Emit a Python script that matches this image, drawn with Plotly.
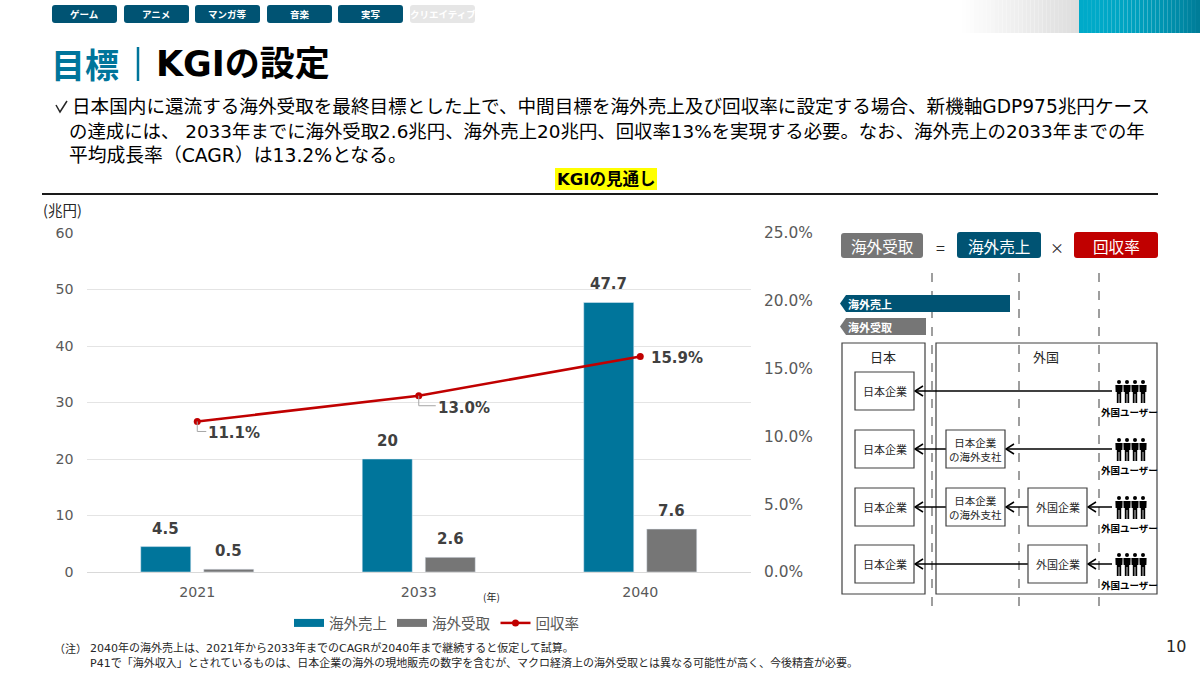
import plotly.graph_objects as go

years = ["2021", "2033", "2040"]
overseas_sales = [4.5, 20, 47.7]
overseas_receipts = [0.5, 2.6, 7.6]
recovery_rate = [11.1, 13.0, 15.9]

sales_labels = ["4.5", "20", "47.7"]
receipt_labels = ["0.5", "2.6", "7.6"]
rate_labels = ["11.1%", "13.0%", "15.9%"]
# label offset from the line point, px
rate_offsets = [(37, 12), (45, 12), (37, 2)]

left_ticks = [0, 10, 20, 30, 40, 50, 60]
right_ticks = [0, 5, 10, 15, 20, 25]
right_tick_labels = ["0.0%", "5.0%", "10.0%", "15.0%", "20.0%", "25.0%"]

tabs = ["ゲーム", "アニメ", "マンガ等", "音楽", "実写", "クリエイティブ"]
tab_x = [52, 124, 195, 267, 338, 410]

subtitle = [
    "日本国内に還流する海外受取を最終目標とした上で、中間目標を海外売上及び回収率に設定する場合、新機軸GDP975兆円ケース",
    "の達成には、 2033年までに海外受取2.6兆円、海外売上20兆円、回収率13%を実現する必要。なお、海外売上の2033年までの年",
    "平均成長率（CAGR）は13.2%となる。",
]

W, H = 1200, 674
FONT = "'DejaVu Sans', 'Noto Sans CJK JP'"
JP = "'Noto Sans CJK JP'"
BLUE = "#00759b"
NAVY = "#005373"
GREY = "#767676"
RED = "#c00000"
TEXT = "#595959"
BOX = "#404040"


def px(x):
    return x / W


def py(y):
    return 1 - y / H


fig = go.Figure()

fig.add_trace(go.Bar(x=years, y=overseas_sales, marker_color=BLUE, showlegend=False))
fig.add_trace(go.Bar(x=years, y=overseas_receipts, marker_color=GREY, showlegend=False))
fig.add_trace(go.Scatter(x=years, y=recovery_rate, yaxis="y2", mode="lines+markers",
                         line=dict(color=RED, width=2.5), marker=dict(color=RED, size=7),
                         name="回収率", legendrank=3))
# bar legend keys are wide in the original, so use thick lines for them
fig.add_trace(go.Scatter(x=years, y=[None, None, None], mode="lines", line=dict(color=BLUE, width=8),
                         name="海外売上", legendrank=1))
fig.add_trace(go.Scatter(x=years, y=[None, None, None], mode="lines", line=dict(color=GREY, width=8),
                         name="海外受取", legendrank=2))

shapes = []
notes = []


def text(x, y, s, size=12, color="#262626", bold=False, anchor="center", font=JP):
    if bold:
        s = "<b>" + s + "</b>"
    notes.append(dict(x=px(x), y=py(y), xref="paper", yref="paper", text=s, showarrow=False,
                      xanchor=anchor, yanchor="middle", align="center" if anchor == "center" else "left",
                      font=dict(size=size, color=color, family=font), borderpad=0))


def rect(x0, y0, x1, y1, fill=None, line=None, width=1.2):
    shapes.append(dict(type="rect", xref="paper", yref="paper", x0=px(x0), x1=px(x1),
                       y0=py(y0), y1=py(y1), fillcolor=fill,
                       line=dict(color=line, width=width if line else 0)))


def round_rect(x0, y0, x1, y1, fill, r=3):
    d = (f"M{px(x0 + r):.5f},{py(y0):.5f}L{px(x1 - r):.5f},{py(y0):.5f}"
         f"Q{px(x1):.5f},{py(y0):.5f} {px(x1):.5f},{py(y0 + r):.5f}"
         f"L{px(x1):.5f},{py(y1 - r):.5f}Q{px(x1):.5f},{py(y1):.5f} {px(x1 - r):.5f},{py(y1):.5f}"
         f"L{px(x0 + r):.5f},{py(y1):.5f}Q{px(x0):.5f},{py(y1):.5f} {px(x0):.5f},{py(y1 - r):.5f}"
         f"L{px(x0):.5f},{py(y0 + r):.5f}Q{px(x0):.5f},{py(y0):.5f} {px(x0 + r):.5f},{py(y0):.5f}Z")
    shapes.append(dict(type="path", xref="paper", yref="paper", path=d, fillcolor=fill, line_width=0))


def seg(x0, y0, x1, y1, color="#000000", width=1.5, dash="solid"):
    shapes.append(dict(type="line", xref="paper", yref="paper", x0=px(x0), x1=px(x1),
                       y0=py(y0), y1=py(y1), line=dict(color=color, width=width, dash=dash)))


def poly(points, fill=None, line=None, width=1.5, close=True):
    d = "M" + "L".join(f"{px(a):.5f},{py(b):.5f}" for a, b in points)
    if close:
        d += "Z"
    shapes.append(dict(type="path", xref="paper", yref="paper", path=d, fillcolor=fill,
                       line=dict(color=line, width=width if line else 0)))


def arrow(x0, x1, y):
    seg(x0, y, x1, y)
    poly([(x1 + 8, y - 5), (x1, y), (x1 + 8, y + 5)], line="#000000", close=False)


def people(y):
    for cx in [1119, 1127, 1135, 1143]:
        shapes.append(dict(type="circle", xref="paper", yref="paper", x0=px(cx - 2), x1=px(cx + 2),
                           y0=py(y - 11), y1=py(y - 7), fillcolor="#000000", line_width=0))
        poly([(cx - 3.6, y - 6), (cx + 3.6, y - 6), (cx + 3.4, y + 1), (cx + 2.2, y + 1), (cx + 2.2, y + 12),
              (cx + 0.4, y + 12), (cx + 0.4, y + 3), (cx - 0.4, y + 3), (cx - 0.4, y + 12),
              (cx - 2.2, y + 12), (cx - 2.2, y + 1), (cx - 3.4, y + 1)], fill="#000000")
    text(1129, y + 21, "外国ユーザー", size=9.5, color="#000000", bold=True)


# header band
for i in range(30):
    t = i / 30
    shade = round(255 - 35 * t)
    rect(958 + i * 121 / 30, 0, 958 + (i + 1) * 121 / 30, 33, fill=f"rgb({shade},{shade},{shade})")
    rect(1079 + i * 121 / 30, 0, 1079 + (i + 1) * 121 / 30, 33,
         fill=f"rgb(0,{round(170 - 48 * t * t)},{round(201 - 52 * t * t)})")

# navigation tabs
for i, (label, x) in enumerate(zip(tabs, tab_x)):
    on = i < 5
    round_rect(x, 5, x + 65, 23, NAVY if on else "#e6e6e6")
    text(x + 32.5, 14, label, size=9.5, color="#ffffff", bold=True)

# heading
text(50, 64, "目標", size=34, color=BLUE, bold=True, anchor="left")
seg(138, 47, 138, 81, color=BLUE, width=2.5)
text(155, 64, "KGIの設定", size=35, color="#000000", bold=True, anchor="left", font=FONT)

poly([(56, 105), (60, 112), (67, 101)], line="#262626", close=False)
text(71, 107, subtitle[0], size=18.6, color="#000000", anchor="left", font=FONT)
text(68, 131, subtitle[1], size=18.4, color="#000000", anchor="left", font=FONT)
text(68, 155, subtitle[2], size=18.8, color="#000000", anchor="left", font=FONT)

rect(555, 168, 657, 190, fill="#ffff00")
text(606, 179, "KGIの見通し", size=16.5, color="#000000", bold=True, font=FONT)
seg(42, 194, 1158, 194, color="#1a1a1a", width=2)

text(42, 209, "(兆円)", size=14.5, anchor="left")
text(492, 596, "(年)", size=10)

# formula row
round_rect(841, 233, 923, 258, GREY)
round_rect(957, 232, 1041, 258, NAVY)
round_rect(1074, 232, 1158, 258, RED)
text(882, 246, "海外受取", size=15.6, color="#ffffff")
text(999, 246, "海外売上", size=15.6, color="#ffffff")
text(1116, 246, "回収率", size=15.6, color="#ffffff")
text(940, 247, "=", size=16)
text(1057, 247, "×", size=14)

for x in [932, 1019, 1099]:
    seg(x, 273, x, 610, color="#7f7f7f", width=1.5, dash="dash")

poly([(840, 303.5), (846, 295), (1010, 295), (1010, 312), (846, 312)], fill=NAVY)
poly([(840, 326.5), (846, 318), (926, 318), (926, 335), (846, 335)], fill=GREY)
text(847, 304, "海外売上", size=11, color="#ffffff", bold=True, anchor="left")
text(847, 327, "海外受取", size=11, color="#ffffff", bold=True, anchor="left")

rect(842, 343, 925, 594, line=BOX)
rect(936, 343, 1157, 594, line=BOX)
text(883, 356, "日本", size=13)
text(1046, 356, "外国", size=13)

arrow(1112, 915, 391)
arrow(1112, 1006, 449)
arrow(946, 915, 449)
arrow(1112, 1088, 507)
arrow(1028, 1006, 507)
arrow(946, 915, 507)
arrow(1112, 1088, 564)
arrow(1028, 915, 564)

for top in [372, 430, 488, 545]:
    rect(855, top, 914, top + 38, fill="#ffffff", line=BOX)
    text(884.5, top + 19, "日本企業", size=11)
for top in [430, 488]:
    rect(946, top, 1005, top + 38, fill="#ffffff", line=BOX)
    text(975.5, top + 19, "日本企業<br>の海外支社", size=10.5)
for top in [488, 545]:
    rect(1028, top, 1087, top + 38, fill="#ffffff", line=BOX)
    text(1057.5, top + 19, "外国企業", size=11)
for y in [391, 449, 507, 564]:
    people(y)

# footnotes and page number
text(53, 648, "（注）", size=11, anchor="left")
text(89, 648, "2040年の海外売上は、2021年から2033年までのCAGRが2040年まで継続すると仮定して試算。", size=11, anchor="left", font=FONT)
text(89, 663, "P41で「海外収入」とされているものは、日本企業の海外の現地販売の数字を含むが、マクロ経済上の海外受取とは異なる可能性が高く、今後精査が必要。",
     size=11, anchor="left", font=FONT)
text(1176, 646, "10", size=16, font=FONT, anchor="center")

# bar labels as annotations, outside text sits too close to the bars
# annotations and shapes on a category axis take the category's index
for values, labels, shift in [(overseas_sales, sales_labels, -31.5), (overseas_receipts, receipt_labels, 31.5)]:
    for i, (value, label) in enumerate(zip(values, labels)):
        notes.append(dict(x=i, y=value, xref="x", yref="y", text="<b>" + label + "</b>", showarrow=False,
                          xshift=shift, yshift=7, yanchor="bottom",
                          font=dict(size=15, color="#404040", family=FONT)))

# line labels sit next to the points, the first two with an elbow leader
for i, (rate, label, (dx, dy)) in enumerate(zip(recovery_rate, rate_labels, rate_offsets)):
    notes.append(dict(x=i, y=rate, xref="x", yref="y2", text="<b>" + label + "</b>",
                      showarrow=False, xshift=dx, yshift=-dy,
                      font=dict(size=15, color="#404040", family=FONT)))
    if dy > 5:
        shapes.append(dict(type="path", xref="x", yref="y2", xsizemode="pixel", ysizemode="pixel",
                           xanchor=i, yanchor=rate, path=f"M0,0L0,{-dy + 2}L{dx - 28},{-dy + 2}",
                           line=dict(color="#a6a6a6", width=1)))

fig.update_layout(
    width=W, height=H,
    margin=dict(l=0, r=0, t=0, b=0, autoexpand=False),
    paper_bgcolor="#ffffff",
    plot_bgcolor="#ffffff",
    barmode="group",
    bargap=0.431,
    bargroupgap=0.206,
    font=dict(family=FONT, color=TEXT, size=14.2),
    xaxis=dict(domain=[px(86.5), px(751)], type="category", categoryorder="array", categoryarray=years,
               range=[-0.5, 2.5], showgrid=False, showline=False, zeroline=False, ticks="",
               ticklabelstandoff=10, anchor="y"),
    yaxis=dict(domain=[py(572), py(233)], range=[0, 60], tickvals=left_ticks, showgrid=True,
               gridcolor="#e4e4e4", gridwidth=1, zeroline=True, zerolinecolor="#d9d9d9", zerolinewidth=1,
               ticklabelstandoff=12, anchor="x"),
    yaxis2=dict(domain=[py(572), py(233)], range=[0, 25], tickvals=right_ticks,
                ticktext=right_tick_labels, tickfont_size=15.4, overlaying="y", side="right", showgrid=False,
                zeroline=False, ticklabelstandoff=12, anchor="x"),
    legend=dict(orientation="h", x=px(289), y=py(623), xanchor="left", yanchor="middle",
                font=dict(size=14.5, family=JP, color=TEXT), itemwidth=30, bgcolor="rgba(0,0,0,0)"),
    shapes=shapes,
    annotations=notes,
)

fig.write_html("out.html", config=dict(displayModeBar=False), post_script="document.body.style.margin='0';")
